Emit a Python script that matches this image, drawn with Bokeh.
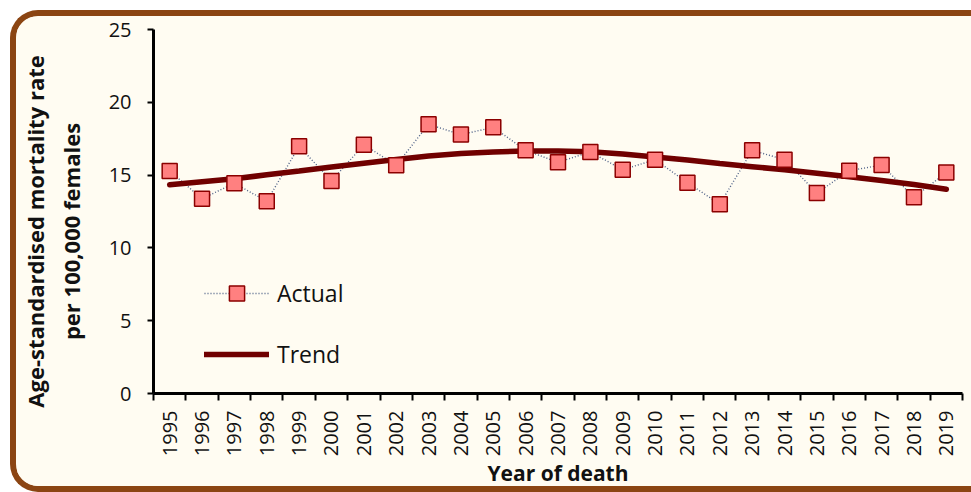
import math
from bokeh.plotting import figure
from bokeh.models import Range1d, FixedTicker, Legend, LegendItem, ColumnDataSource
from bokeh.embed import file_html
from bokeh.resources import INLINE

years = list(range(1995, 2020))
actual = [15.28, 13.38, 14.44, 13.20, 16.98, 14.60, 17.09, 15.67, 18.49, 17.78,
          18.28, 16.70, 15.88, 16.59, 15.37, 16.06, 14.48, 13.00, 16.70, 16.06,
          13.77, 15.30, 15.69, 13.48, 15.17]
trend = [14.34, 14.55, 14.75, 15.02, 15.28, 15.55, 15.81, 16.07, 16.31, 16.48,
         16.59, 16.65, 16.65, 16.60, 16.45, 16.25, 16.04, 15.80, 15.58, 15.36,
         15.12, 14.88, 14.63, 14.36, 14.03]
y_ticks = [0, 5, 10, 15, 20, 25]
cat_edges = [y - 0.5 for y in years] + [years[-1] + 0.5]
y_title_lines = ["Age-standardised mortality rate", "per 100,000 females"]
x_title = "Year of death"

FONT = "Open Sans"
TXT = "#111111"
PAD = "\u00a0" * 7  # keeps the centred title a little lower, as in the original
src = ColumnDataSource(dict(x=years, actual=actual, trend=trend))

p = figure(width=955, height=470, output_backend="svg", toolbar_location=None,
           x_range=Range1d(1994.5, 2019.5), y_range=Range1d(0, 25),
           min_border_left=137, min_border_top=13, min_border_right=15,
           min_border_bottom=105)
p.styles = {"box-sizing": "content-box",
            "border": "6px solid #8B4513", "border-right": "none",
            "border-radius": "28px 0 0 28px",
            "overflow": "hidden", "margin": "10px 0 0 10px",
            "background-color": "#FFFCF2"}
p.background_fill_color = "#FFFCF2"
p.border_fill_color = "#FFFCF2"
p.outline_line_color = None
p.xgrid.visible = False
p.ygrid.visible = False

dots = p.line("x", "actual", source=src, line_color="#4F6288", line_width=1.4,
              line_dash="1 2")
trend_r = p.line("x", "trend", source=src, line_color="#700000", line_width=5.5,
                 line_cap="round")
marks = p.scatter("x", "actual", source=src, marker="square", size=15,
                  fill_color="#FF8080", line_color="#8B0000", line_width=1.5)

# x axis
xa = p.xaxis[0]
xa.ticker = FixedTicker(ticks=years, minor_ticks=cat_edges)
xa.major_tick_out = 0
xa.major_tick_in = 0
xa.minor_tick_out = 7
xa.minor_tick_in = 0
xa.minor_tick_line_width = 2
xa.minor_tick_line_color = "black"
xa.axis_line_width = 3
xa.axis_line_color = "black"
xa.major_label_orientation = math.pi / 2
xa.major_label_standoff = 10
xa.major_label_text_font = FONT
xa.major_label_text_font_size = "20px"
xa.major_label_text_color = TXT
xa.axis_label = x_title
xa.axis_label_text_font = FONT
xa.axis_label_text_font_size = "21px"
xa.axis_label_text_font_style = "bold"
xa.axis_label_text_color = TXT
xa.axis_label_standoff = 0

# y axis
ya = p.yaxis[0]
ya.ticker = FixedTicker(ticks=y_ticks, minor_ticks=[])
ya.major_tick_out = 6
ya.major_tick_in = 0
ya.major_tick_line_width = 2
ya.major_tick_line_color = "black"
ya.axis_line_width = 3
ya.axis_line_color = "black"
ya.major_label_standoff = 16
ya.major_label_text_font = FONT
ya.major_label_text_font_size = "20px"
ya.major_label_text_color = TXT
ya.axis_label = "\n".join(line + PAD for line in y_title_lines)
ya.axis_label_text_font = FONT
ya.axis_label_text_font_size = "22px"
ya.axis_label_text_font_style = "bold"
ya.axis_label_text_color = TXT
ya.axis_label_standoff = 20

legend = Legend(items=[LegendItem(label="Actual", renderers=[dots, marks]),
                       LegendItem(label="Trend", renderers=[trend_r])],
                location=(51, 20), orientation="vertical",
                glyph_width=65, glyph_height=38, spacing=23,
                label_standoff=8, padding=0, margin=0,
                border_line_color=None, background_fill_alpha=0,
                label_text_font=FONT, label_text_font_size="23px",
                label_text_color=TXT)
p.add_layout(legend, "center")

open("out.html", "w").write(file_html(p, INLINE))
